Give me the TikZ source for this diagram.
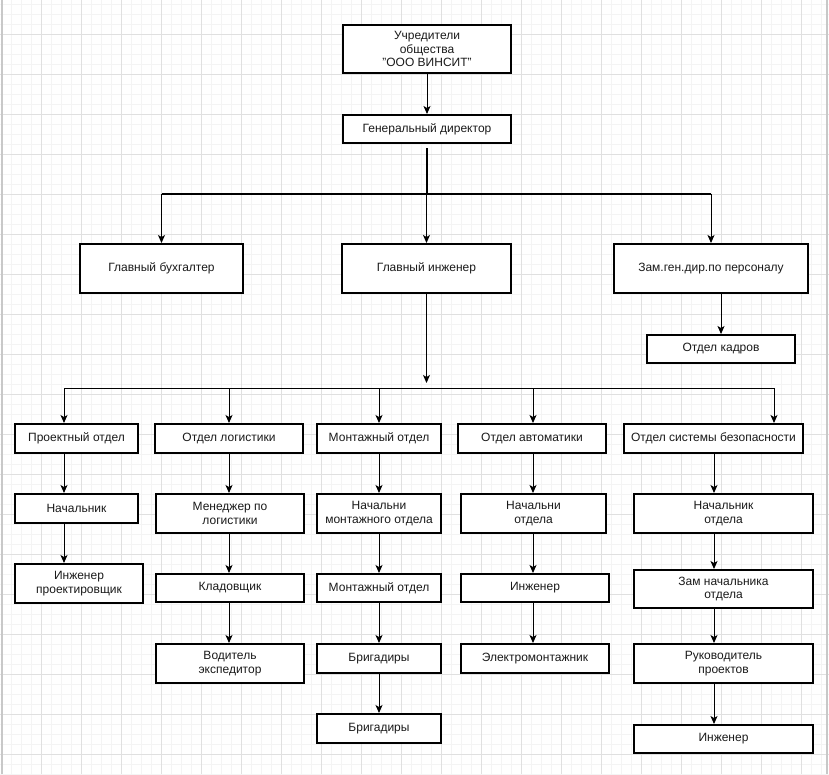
\documentclass[tikz,border=0pt]{standalone}
\usepackage{fontspec}
\setmainfont{Liberation Sans}
\usetikzlibrary{arrows.meta}
\definecolor{gridminor}{HTML}{F4F4F4}
\definecolor{gridmajor}{HTML}{E0E0E0}
\definecolor{edgegray}{HTML}{C8C8C8}
\definecolor{txt}{HTML}{1A1A1A}
\newcommand\bx[6]{\node[box, minimum width={(#4-#2-2)*1pt}, minimum height={(#5-#3-2)*1pt}] (#1) at ({(#2+#4)/2},{(#3+#5)/2}) {#6};}
\begin{document}
\begin{tikzpicture}[x=1pt,y=-1pt,
  box/.style={draw=black, line width=2pt, fill=white, align=center, text=txt,
    font=\fontsize{12}{13.5}\selectfont, inner sep=0pt},
  arr/.style={line width=1pt, -{Stealth[length=8pt,width=7pt,inset=2pt]}},
  minorline/.style={gridminor, line width=1pt},
  majorline/.style={gridmajor, line width=1pt}]
\useasboundingbox (0,0) rectangle (829,774);
\fill[white] (0,0) rectangle (829,774);
% grid
\foreach \x in {1,11,...,821} \draw[minorline] (\x,0) -- (\x,774);
\foreach \y in {4,14,...,774} \draw[minorline] (0,\y) -- (829,\y);
\foreach \x in {1,41,...,821} \draw[majorline] (\x,0) -- (\x,774);
\foreach \y in {34,74,...,774} \draw[majorline] (0,\y) -- (829,\y);
\draw[edgegray, line width=1.5pt] (2,0) -- (2,774);
\draw[edgegray, line width=1.5pt] (827,0) -- (827,774);

% boxes
\bx{top}{342}{24}{512}{74}{Учредители\\общества\\"ООО ВИНСИТ"}
\bx{gd}{342}{114}{512}{144}{Генеральный директор}
\bx{bux}{79}{243}{244}{294}{Главный бухгалтер}
\bx{eng}{341}{243}{512}{294}{Главный инженер}
\bx{zam}{613}{243}{809}{294}{Зам.ген.дир.по персоналу}
\bx{kad}{646}{334}{796}{364}{Отдел кадров}

\bx{proj}{14}{423}{139}{454}{Проектный отдел}
\bx{log}{154}{423}{304}{454}{Отдел логистики}
\bx{mont}{316}{423}{442}{454}{Монтажный отдел}
\bx{avt}{457}{423}{607}{454}{Отдел автоматики}
\bx{sec}{623}{423}{804}{454}{Отдел системы безопасности}

\bx{p2}{14}{493}{139}{524}{Начальник}
\bx{l2}{155}{493}{305}{534}{Менеджер по\\логистики}
\bx{m2}{316}{493}{442}{534}{Начальни\\монтажного отдела}
\bx{a2}{460}{493}{607}{534}{Начальни\\отдела}
\bx{s2}{633}{493}{814}{534}{Начальник\\отдела}

\bx{p3}{14}{563}{144}{604}{Инженер\\проектировщик}
\bx{l3}{155}{573}{305}{603}{Кладовщик}
\bx{m3}{316}{573}{442}{603}{Монтажный отдел}
\bx{a3}{460}{573}{610}{603}{Инженер}
\bx{s3}{633}{569}{814}{609}{Зам начальника\\отдела}

\bx{l4}{155}{643}{305}{684}{Водитель\\экспедитор}
\bx{m4}{316}{643}{442}{674}{Бригадиры}
\bx{a4}{460}{643}{610}{674}{Электромонтажник}
\bx{s4}{633}{643}{814}{684}{Руководитель\\проектов}

\bx{m5}{316}{713}{442}{744}{Бригадиры}
\bx{s5}{633}{724}{814}{754}{Инженер}

% connectors top
\draw[arr] (top.south) -- (gd.south |- top.south) -- (gd.north);
\coordinate (j1) at (427,194);
\draw[line width=2.5pt, shorten <=4pt] (gd.south) -- (gd.south |- j1);
\draw[line width=2pt] (bux.north |- j1) -- (zam.north |- j1);
\draw[arr] (bux.north |- j1) -- (bux.north);
\draw[arr] (eng.north |- j1) -- (eng.north);
\draw[arr] (zam.north |- j1) -- (zam.north);
\draw[arr] (kad.north |- zam.south) -- (kad.north);

% engineer to departments
\coordinate (e1) at (427,383);
\draw[arr] (eng.south) -- (eng.south |- e1);
\coordinate (c1) at (64,388);
\coordinate (c2) at (229,388);
\coordinate (c3) at (379,388);
\coordinate (c4) at (533,388);
\coordinate (c5) at (774,388);
\coordinate (k5) at (714,388);
\draw[line width=1pt] (c1) -- (c5);
\foreach \c/\n in {c1/proj,c2/log,c3/mont,c4/avt,c5/sec}
  \draw[arr] (\c) -- (\c |- \n.north);

% columns
\draw[arr] (c1 |- proj.south) -- (c1 |- p2.north);
\draw[arr] (c1 |- p2.south) -- (c1 |- p3.north);

\draw[arr] (c2 |- log.south) -- (c2 |- l2.north);
\draw[arr] (c2 |- l2.south) -- (c2 |- l3.north);
\draw[arr] (c2 |- l3.south) -- (c2 |- l4.north);

\draw[arr] (c3 |- mont.south) -- (c3 |- m2.north);
\draw[arr] (c3 |- m2.south) -- (c3 |- m3.north);
\draw[arr] (c3 |- m3.south) -- (c3 |- m4.north);
\draw[arr] (c3 |- m4.south) -- (c3 |- m5.north);

\draw[arr] (c4 |- avt.south) -- (c4 |- a2.north);
\draw[arr] (c4 |- a2.south) -- (c4 |- a3.north);
\draw[arr] (c4 |- a3.south) -- (c4 |- a4.north);

\draw[arr] (k5 |- sec.south) -- (k5 |- s2.north);
\draw[arr] (k5 |- s2.south) -- (k5 |- s3.north);
\draw[arr] (k5 |- s3.south) -- (k5 |- s4.north);
\draw[arr] (k5 |- s4.south) -- (k5 |- s5.north);
\end{tikzpicture}
\end{document}
